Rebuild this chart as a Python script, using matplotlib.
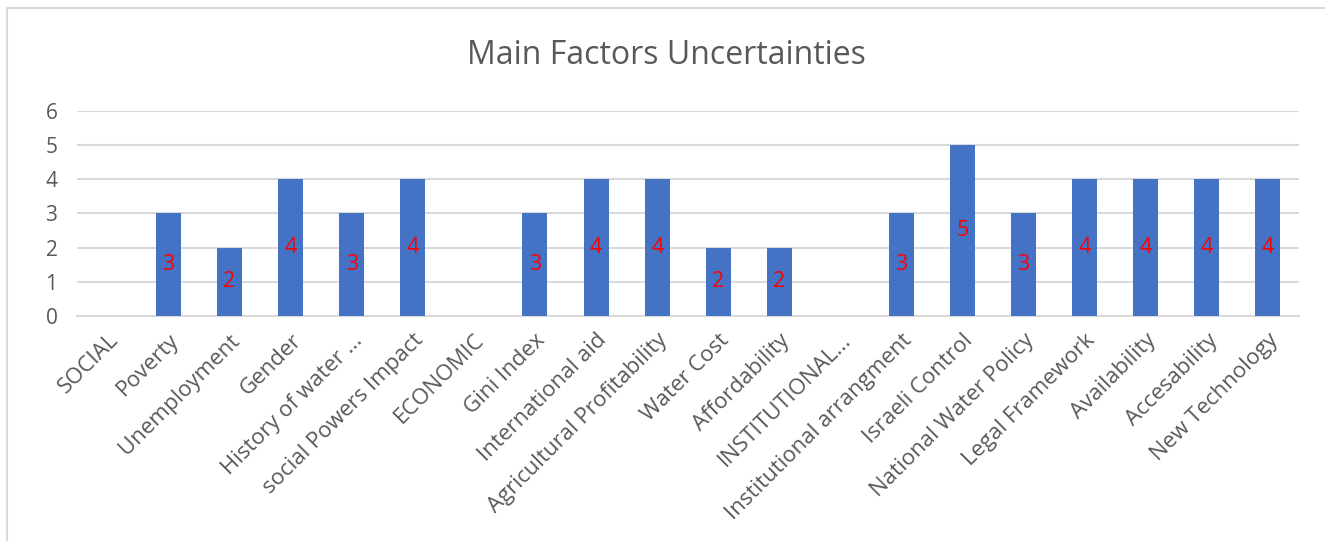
import matplotlib
matplotlib.use("Agg")
import matplotlib.pyplot as plt
from matplotlib.lines import Line2D
import numpy as np

BLUE = "#4472C4"; GRID = "#d9d9d9"; TXT = "#595959"; RED = "#ff0000"
plt.rcParams.update({"font.family": ["Open Sans", "DejaVu Sans"]})

categories = ["SOCIAL", "Poverty", "Unemployment", "Gender", "History of water ...",
              "social Powers Impact", "ECONOMIC", "Gini Index", "International aid",
              "Agricultural Profitability", "Water Cost", "Affordability",
              "INSTITUTIONAL...", "Institutional arrangment", "Israeli Control",
              "National Water Policy", "Legal Framework", "Availability",
              "Accesability", "New Technology"]
values = [0, 3, 2, 4, 3, 4, 0, 3, 4, 4, 2, 2, 0, 3, 5, 3, 4, 4, 4, 4]
yticks = [0, 1, 2, 3, 4, 5, 6]

fig = plt.figure(figsize=(13.25, 5.41), dpi=100)
fig.patch.set_facecolor("white")
ax = fig.add_axes([0.058, 0.416, 0.922, 0.379])

x = np.arange(len(categories))
bars = ax.bar(x, values, width=0.41, color=BLUE, zorder=3)
for b, v in zip(bars, values):
    if v > 0:
        ax.text(b.get_x() + b.get_width() / 2, v / 2, str(v), ha="center", va="center",
                color=RED, fontsize=15.5, zorder=4)

ax.set_xlim(-0.5, len(categories) - 0.5)
ax.set_ylim(0, 6)
ax.set_yticks(yticks)
ax.yaxis.grid(True, color=GRID, lw=1.5, zorder=0)
ax.set_axisbelow(True)
for s in ["top", "right", "left"]:
    ax.spines[s].set_visible(False)
ax.spines["bottom"].set_color(GRID)
ax.spines["bottom"].set_linewidth(1.5)
ax.tick_params(length=0, colors=TXT, labelsize=15)
ax.tick_params(axis="y", pad=14)
ax.set_xticks(x)
ax.set_xticklabels(categories, rotation=45, ha="right", rotation_mode="anchor", fontsize=16)
ax.tick_params(axis="x", pad=10)

fig.text(0.503, 0.898, "Main Factors Uncertainties", ha="center", va="center",
         color=TXT, fontsize=23)

# light chart-area border (only top and left edges fall inside the crop)
fig.add_artist(Line2D([0.0053, 1.0], [0.985, 0.985], color=GRID, lw=1.5))
fig.add_artist(Line2D([0.0053, 0.0053], [0.0, 0.985], color=GRID, lw=1.5))

fig.savefig("out.png", dpi=100, facecolor="white")
